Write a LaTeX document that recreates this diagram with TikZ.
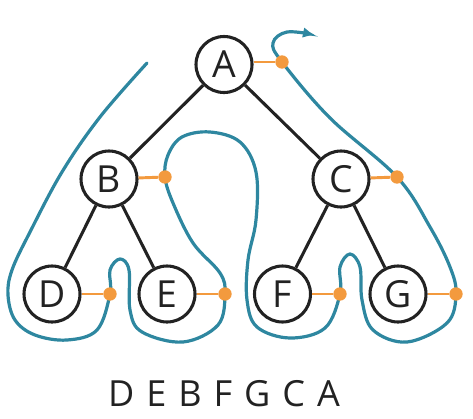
\documentclass[tikz,border=0pt]{standalone}
\usepackage{fontspec}
\setmainfont{Open Sans}
\usetikzlibrary{arrows.meta}
\definecolor{walk}{HTML}{2E87A0}
\definecolor{visit}{HTML}{F39A3E}
\definecolor{ink}{HTML}{222222}
\tikzset{
  treenode/.style={circle, draw=ink, line width=2.3pt, minimum size=42pt, inner sep=0pt,
    font=\fontsize{28}{30}\selectfont, text=ink},
  treeedge/.style={draw=ink, line width=2.3pt},
  visitline/.style={draw=visit, line width=2.2pt},
  visitdot/.style={circle, fill=visit, minimum size=10pt, inner sep=0pt},
  walkline/.style={draw=walk, line width=2.4pt, line cap=round},
}
\newcommand{\gap}{\hspace{9pt}}
\begin{document}
\begin{tikzpicture}[x=0.75pt,y=-0.75pt]
\useasboundingbox (0,0) rectangle (473,418);
% tree
\node[treenode] (A) at (224,64.5) {A};
\node[treenode] (B) at (109,179) {B};
\node[treenode] (C) at (341,179) {C};
\node[treenode] (D) at (52,294) {D};
\node[treenode] (E) at (167,294) {E};
\node[treenode] (F) at (282.5,294) {F};
\node[treenode] (G) at (398,294) {G};
\draw[treeedge] (A) -- (B);
\draw[treeedge] (A) -- (C);
\draw[treeedge] (B) -- (D);
\draw[treeedge] (B) -- (E);
\draw[treeedge] (C) -- (F);
\draw[treeedge] (C) -- (G);
% post-order walk around the tree
\draw[walkline, -{Latex[length=9pt,width=8pt]}] plot[smooth, tension=0.6] coordinates {
  (147,63) (100,117) (62,172) (30,232) (12,270) (8,295) (15,320) (35,335)
  (67,340) (97,330) (110,294) (110,270) (120,259) (129,270) (130,310)
  (142,332) (183,342) (218,325) (225,294) (220,273) (193,243) (173,203)
  (165,177) (168,155) (182,137) (210,132) (240,142) (256,172) (256,220)
  (248,260) (247,300) (257,327) (290,338) (325,328) (340,294) (340,267)
  (350,254) (360,267) (362,300) (373,330) (407,342) (447,323) (456,294)
  (450,267) (430,227) (397,177) (330,118) (282,62) (273,43) (287,32) (315,35)};
% visit markers
\node[visitdot] (dA) at (282,62) {};
\node[visitdot] (dB) at (165,177) {};
\node[visitdot] (dC) at (397,177) {};
\node[visitdot] (dD) at (110,294) {};
\node[visitdot] (dE) at (225,294) {};
\node[visitdot] (dF) at (340,294) {};
\node[visitdot] (dG) at (456,294) {};
\draw[visitline] (A.east |- dA) -- (dA);
\draw[visitline] (B) -- (dB);
\draw[visitline] (C) -- (dC);
\draw[visitline] (D) -- (dD);
\draw[visitline] (E) -- (dE);
\draw[visitline] (F) -- (dF);
\draw[visitline] (G) -- (dG);
% resulting order
\node[font=\fontsize{27}{30}\selectfont, text=ink] (order) at (224,394)
  {D\gap E\gap B\gap F\gap G\gap C\gap A};
\end{tikzpicture}
\end{document}
